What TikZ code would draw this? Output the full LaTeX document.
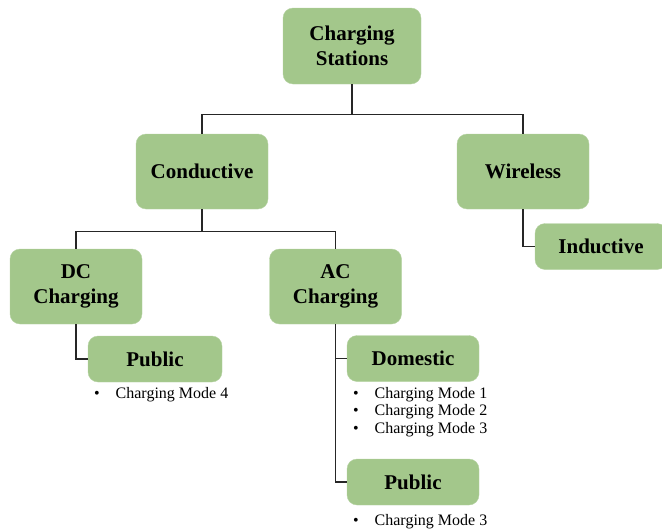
\documentclass[tikz,border=0pt]{standalone}
\usepackage{fontspec}
\setmainfont{Liberation Serif}
\definecolor{boxgreen}{RGB}{163,199,139}
\newcommand{\modeitem}{\makebox[21.5pt][l]{\textbullet}}
\begin{document}
\begin{tikzpicture}[x=1pt,y=-1pt,
  cat/.style={draw=boxgreen!80!white,fill=boxgreen,rounded corners=10pt,inner sep=0pt,align=center,font=\fontsize{21}{25}\selectfont\bfseries},
  big/.style={cat,minimum width=132pt,minimum height=75pt},
  small/.style={cat,minimum width=132pt,minimum height=46pt},
  modes/.style={anchor=base west,inner sep=0pt,align=left,font=\fontsize{16}{17.5}\selectfont},
  link/.style={draw=black!85,line width=1.3pt}]
\useasboundingbox (0,0) rectangle (662,530);
\clip (0,0) rectangle (662,530);
\node[big,minimum width=138pt,minimum height=76pt] (stations) at (352,46) {Charging\\Stations};
\node[big] (conductive) at (202,171.5) {Conductive};
\node[big] (wireless) at (523,171.5) {Wireless};
\node[big] (dc) at (76,286.5) {DC\\Charging};
\node[big] (ac) at (335.5,286.5) {AC\\Charging};
\node[small] (inductive) at (601,246.5) {Inductive};
\node[small,minimum width=134pt] (dcpublic) at (155,359) {Public};
\node[small] (domestic) at (413,358.5) {Domestic};
\node[small] (acpublic) at (413,482) {Public};
\node[modes] (dcmodes) at (94,398) {\modeitem Charging Mode 4};
\node[modes] (domesticmodes) at (353,433) {\modeitem Charging Mode 1\\\modeitem Charging Mode 2\\\modeitem Charging Mode 3};
\node[modes] (acmodes) at (353,525) {\modeitem Charging Mode 3};
\draw[link] (stations.south) -- ++(0,30) -| (conductive.north);
\draw[link] (stations.south) -- ++(0,30) -| (wireless.north);
\draw[link] (conductive.south) -- ++(0,22) -| (dc.north);
\draw[link] (conductive.south) -- ++(0,22) -| (ac.north);
\draw[link] (dc.south) |- (dcpublic.west);
\draw[link] (ac.south) |- (domestic.west);
\draw[link] (ac.south) |- (acpublic.west);
\draw[link] (wireless.south) |- (inductive.west);
\end{tikzpicture}
\end{document}
